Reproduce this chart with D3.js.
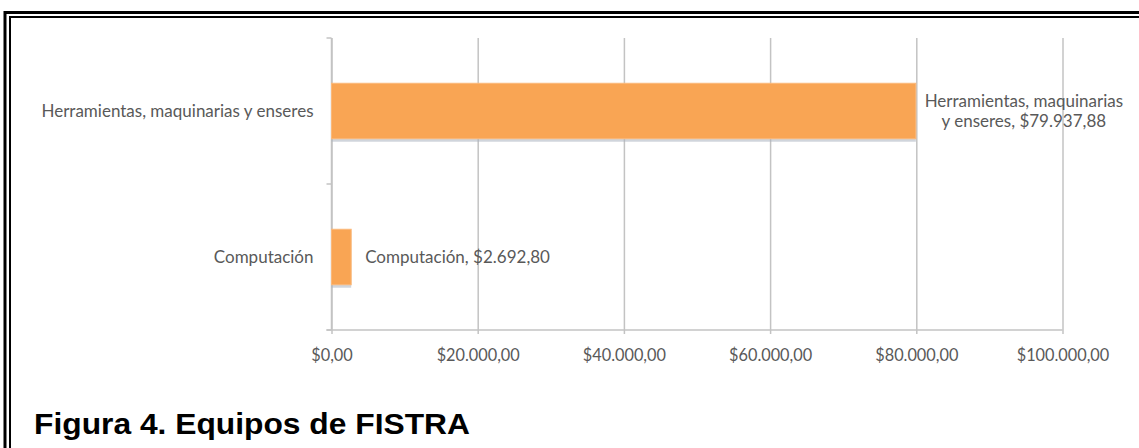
<!DOCTYPE html>
<html>
<head>
<meta charset="utf-8">
<script src="https://cdn.jsdelivr.net/npm/d3@7"></script>
<style>
  html, body { margin: 0; padding: 0; background: #fff; }
  svg { display: block; }
</style>
</head>
<body>
<svg id="chart" width="1139" height="448"></svg>
<script>
// Equipment inventory of FISTRA (USD)
const categories = ["Herramientas, maquinarias y enseres", "Computación"];
const values = [79937.88, 2692.80];
const labelLines = [["Herramientas, maquinarias", "y enseres, "], ["Computación, "]];
const tickValues = [0, 20000, 40000, 60000, 80000, 100000];
const title = "Figura 4. Equipos de FISTRA";

const W = 1139, H = 448;
const plot = { left: 331.5, right: 1062.5, top: 38, bottom: 330 };

const locale = d3.formatLocale({ decimal: ",", thousands: ".", grouping: [3], currency: ["$", ""] });
const money = locale.format("$,.2f");

const svg = d3.select("#chart");
const font = "Lato, 'Open Sans', sans-serif";
const textColor = "#595959";
const gridColor = "#c3c3c3";
const labelSize = 17;

// Double frame around the figure
svg.append("rect").attr("x", 5).attr("y", 12.5).attr("width", W + 20).attr("height", H + 20)
  .attr("fill", "none").attr("stroke", "#000").attr("stroke-width", 3);
svg.append("rect").attr("x", 10).attr("y", 17).attr("width", W + 20).attr("height", H + 20)
  .attr("fill", "none").attr("stroke", "#000").attr("stroke-width", 2);

const x = d3.scaleLinear().domain([0, 100000]).range([plot.left, plot.right]);
const y = d3.scaleBand().domain(categories).range([plot.top, plot.bottom])
  .paddingInner(0.62).paddingOuter(0.31);

// Vertical gridlines (with short ticks below the axis)
const grid = svg.append("g").attr("transform", `translate(0,${plot.bottom})`)
  .call(d3.axisBottom(x).tickValues(tickValues).tickSizeInner(-(plot.bottom - plot.top)).tickSizeOuter(0).tickFormat(""));
grid.select(".domain").remove();
grid.selectAll(".tick line").attr("stroke", gridColor).attr("stroke-width", 1.5)
  .attr("y1", 4);

// Horizontal axis with labels
const xAxis = svg.append("g").attr("transform", `translate(0,${plot.bottom})`)
  .call(d3.axisBottom(x).tickValues(tickValues).tickSize(0).tickPadding(19).tickFormat(money));
xAxis.select(".domain").remove();
xAxis.selectAll("text").attr("font-family", font).attr("font-size", 16.3).attr("fill", textColor);

svg.append("line").attr("x1", plot.left - 5).attr("x2", plot.right)
  .attr("y1", plot.bottom).attr("y2", plot.bottom)
  .attr("stroke", gridColor).attr("stroke-width", 1.5);

// Vertical category axis with boundary ticks
svg.append("line").attr("x1", plot.left).attr("x2", plot.left)
  .attr("y1", plot.top).attr("y2", plot.bottom)
  .attr("stroke", gridColor).attr("stroke-width", 1.5);
const bounds = d3.range(categories.length + 1).map(i => plot.top + i * y.step());
svg.append("g").selectAll("line").data(bounds).join("line")
  .attr("x1", plot.left - 5).attr("x2", plot.left)
  .attr("y1", d => d).attr("y2", d => d)
  .attr("stroke", gridColor).attr("stroke-width", 1.5);

// Category labels
svg.append("g").selectAll("text").data(categories).join("text")
  .attr("x", plot.left - 18)
  .attr("y", d => y(d) + y.bandwidth() / 2 + 2)
  .attr("text-anchor", "end").attr("dominant-baseline", "middle")
  .attr("font-family", font).attr("font-size", labelSize).attr("fill", textColor)
  .text(d => d);

const data = categories.map((c, i) => ({ c, v: values[i], lines: labelLines[i] }));

// Bar shadows and bars
svg.append("g").selectAll("rect").data(data).join("rect")
  .attr("x", x(0)).attr("y", d => y(d.c) + 2)
  .attr("width", d => x(d.v) - x(0)).attr("height", y.bandwidth() + 1)
  .attr("fill", "#aab3c0").attr("opacity", 0.55);
svg.append("g").selectAll("rect").data(data).join("rect")
  .attr("x", x(0)).attr("y", d => y(d.c))
  .attr("width", d => x(d.v) - x(0)).attr("height", y.bandwidth())
  .attr("fill", "#f9a554").attr("stroke", "#fbb879").attr("stroke-width", 1);

// Value labels
const lbl = svg.append("g");
data.forEach(d => {
  const cy = y(d.c) + y.bandwidth() / 2 + 2;
  const lines = d.lines.slice();
  lines[lines.length - 1] += money(d.v);
  if (lines.length === 1) {
    lbl.append("text").attr("x", x(d.v) + 14).attr("y", cy)
      .attr("dominant-baseline", "middle")
      .attr("font-family", font).attr("font-size", labelSize).attr("fill", textColor)
      .text(lines[0]);
  } else {
    const cx = x(d.v) + 108;
    const t = lbl.append("text").attr("x", cx).attr("y", cy - 10)
      .attr("text-anchor", "middle").attr("dominant-baseline", "middle")
      .attr("font-family", font).attr("font-size", labelSize).attr("fill", textColor);
    lines.forEach((s, k) => t.append("tspan").attr("x", cx).attr("dy", k === 0 ? 0 : 20).text(s));
  }
});

// Figure caption
svg.append("text").attr("x", 34).attr("y", 434)
  .attr("font-family", "'Liberation Sans', Arial, sans-serif").attr("font-weight", "bold")
  .attr("font-size", 30).attr("fill", "#000")
  .attr("textLength", 436).attr("lengthAdjust", "spacingAndGlyphs")
  .text(title);
</script>
</body>
</html>
